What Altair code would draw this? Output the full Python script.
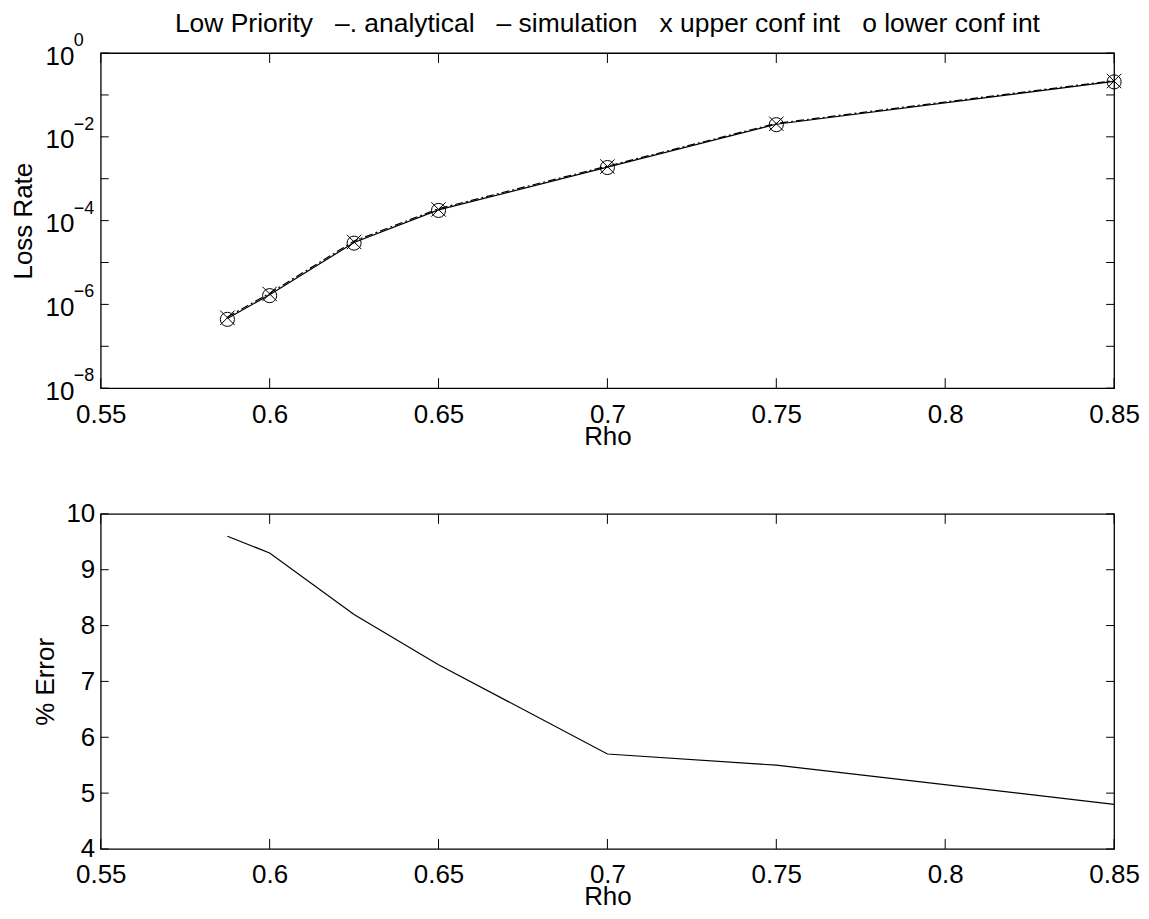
import altair as alt
import pandas as pd

# ---- data ----
rho = [0.5875, 0.6, 0.625, 0.65, 0.7, 0.75, 0.85]
simulation = [4.6e-7, 1.7e-6, 3.0e-5, 1.8e-4, 1.9e-3, 2.0e-2, 0.21]
analytical = [5.0e-7, 1.85e-6, 3.25e-5, 1.93e-4, 2.0e-3, 2.1e-2, 0.22]
upper_ci = [4.8e-7, 1.78e-6, 3.1e-5, 1.85e-4, 1.95e-3, 2.05e-2, 0.215]
lower_ci = [4.4e-7, 1.62e-6, 2.9e-5, 1.75e-4, 1.85e-3, 1.95e-2, 0.205]
pct_error = [9.6, 9.3, 8.2, 7.3, 5.7, 5.5, 4.8]

x_ticks = [0.55, 0.6, 0.65, 0.7, 0.75, 0.8, 0.85]
loss_ticks = [1e-8, 1e-7, 1e-6, 1e-5, 1e-4, 1e-3, 1e-2, 1e-1, 1.0]
loss_label_vals = [1e-8, 1e-6, 1e-4, 1e-2, 1.0]
loss_exponents = ["\u22128", "\u22126", "\u22124", "\u22122", "0"]
err_ticks = [4, 5, 6, 7, 8, 9, 10]

NB = "\u00a0"
TITLE = ("Low Priority" + NB * 3 + "\u2013. analytical" + NB * 3 + "\u2013 simulation"
         + NB * 3 + "x upper conf int" + NB * 3 + "o lower conf int")

FONT = "Liberation Sans"
W, H = 1016, 336
FS = 26

df = pd.DataFrame({"rho": rho, "sim": simulation, "ana": analytical,
                   "up": upper_ci, "lo": lower_ci, "err": pct_error})
xt = pd.DataFrame({"v": x_ticks})
lt = pd.DataFrame({"v": loss_ticks})
le = pd.DataFrame({"v": loss_label_vals, "e": loss_exponents})
et = pd.DataFrame({"v": err_ticks})
tt = pd.DataFrame({"t": [TITLE]})

xscale = alt.Scale(domain=[0.55, 0.85], nice=False, zero=False)
ytop = alt.Scale(type="log", domain=[1e-8, 1.0], nice=False)
ybot = alt.Scale(domain=[4, 10], nice=False, zero=False)

x_axis = alt.Axis(values=x_ticks, format="~g", title="Rho", labelPadding=13,
                  labelFlush=False, labelOverlap=False, titleY=48,
                  titleBaseline="middle")
ytop_axis = alt.Axis(values=loss_label_vals, labelExpr="'10'",
                     title="Loss Rate", labelPadding=27, labelOffset=3,
                     labelOverlap=False, titleX=-77, titleY=H / 2,
                     titleBaseline="middle")
ybot_axis = alt.Axis(values=err_ticks, title="% Error", labelPadding=6,
                     labelOverlap=False, titleX=-55, titleY=H / 2,
                     titleBaseline="middle")

XPATH = "M-1,-1L1,1M-1,1L1,-1"


def X(field):
    return alt.X(field, type="quantitative", scale=xscale, axis=x_axis)


def xtick_layers(data):
    bot = alt.Chart(data).mark_rule(color="black", strokeWidth=1).encode(
        x=X("v"), y=alt.value(H), y2=alt.value(H - 10))
    top = alt.Chart(data).mark_rule(color="black", strokeWidth=1).encode(
        x=X("v"), y=alt.value(0), y2=alt.value(10))
    return [bot, top]


def ytick_layers(data, scale, axis):
    left = alt.Chart(data).mark_rule(color="black", strokeWidth=1).encode(
        y=alt.Y("v:Q", scale=scale, axis=axis),
        x=alt.value(0), x2=alt.value(8))
    right = alt.Chart(data).mark_rule(color="black", strokeWidth=1).encode(
        y=alt.Y("v:Q", scale=scale, axis=axis),
        x=alt.value(W - 8), x2=alt.value(W))
    return [left, right]


def YT(field):
    return alt.Y(field, type="quantitative", scale=ytop, axis=ytop_axis)


sim_line = alt.Chart(df).mark_line(color="black", strokeWidth=1.2).encode(
    x=X("rho"), y=YT("sim"))
ana_line = alt.Chart(df).mark_line(color="black", strokeWidth=1.2,
                                   strokeDash=[8, 3, 2, 3]).encode(
    x=X("rho"), y=YT("ana"))
up_pts = alt.Chart(df).mark_point(shape=XPATH, size=210, filled=False,
                                  color="black", strokeWidth=1, opacity=1).encode(
    x=X("rho"), y=YT("up"))
lo_pts = alt.Chart(df).mark_point(shape="circle", size=200, filled=False,
                                  color="black", strokeWidth=1, opacity=1).encode(
    x=X("rho"), y=YT("lo"))
exps = alt.Chart(le).mark_text(align="left", baseline="middle", dy=-12,
                               fontSize=18, font=FONT, color="black").encode(
    x=alt.value(-27), y=YT("v"), text="e:N")
title_txt = alt.Chart(tt).mark_text(align="center", baseline="alphabetic",
                                    fontSize=26.5, font=FONT, color="black").encode(
    x=alt.value(W / 2), y=alt.value(-21), text="t:N")

top_chart = alt.layer(
    sim_line, ana_line, up_pts, lo_pts, exps, title_txt,
    *ytick_layers(lt, ytop, ytop_axis), *xtick_layers(xt)
).properties(width=W, height=H)

err_line = alt.Chart(df).mark_line(color="black", strokeWidth=1.2).encode(
    x=X("rho"), y=alt.Y("err:Q", scale=ybot, axis=ybot_axis))

bottom_chart = alt.layer(
    err_line, *ytick_layers(et, ybot, ybot_axis), *xtick_layers(xt)
).properties(width=W, height=H)

chart = alt.vconcat(top_chart, bottom_chart, spacing=126, bounds="flush").properties(
    padding={"left": 10, "top": 9, "right": 9, "bottom": 5},
    background="white"
).configure_view(
    stroke="black", strokeWidth=1.3
).configure_axis(
    domain=False, ticks=False, grid=False,
    labelFont=FONT, labelFontSize=FS, labelColor="black",
    titleFont=FONT, titleFontSize=FS, titleFontWeight="normal", titleColor="black"
)

chart.save("out.html", embed_options={"renderer": "svg", "actions": False})
